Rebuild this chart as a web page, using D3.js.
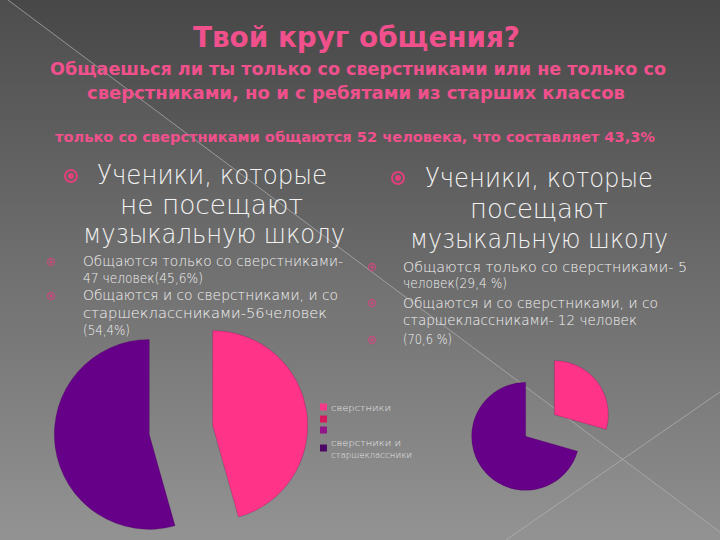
<!DOCTYPE html>
<html>
<head>
<meta charset="utf-8">
<script src="https://cdn.jsdelivr.net/npm/d3@7"></script>
<style>
html,body{margin:0;padding:0;background:#4a4a4a;}
svg{display:block;}
</style>
</head>
<body>
<div id="chart"></div>
<script>
// ---------- data ----------
const titleText = "Твой круг общения?";
const subtitleLines = [
  "Общаешься ли ты только со сверстниками или не только со",
  "сверстниками, но и с  ребятами из старших классов"
];
const summaryText = "только со сверстниками общаются  52 человека, что составляет  43,3%";

const leftHeading = ["Ученики, которые", "не посещают", "музыкальную школу"];
const leftItems = [
  "Общаются только со сверстниками-",
  "47 человек(45,6%)",
  "Общаются и со сверстниками, и со",
  "старшеклассниками-56человек",
  "(54,4%)"
];
const rightHeading = ["Ученики, которые", "посещают", "музыкальную школу"];
const rightItems = [
  "Общаются только со сверстниками- 5",
  "человек(29,4 %)",
  "Общаются и со сверстниками, и со",
  "старшеклассниками- 12 человек",
  "(70,6 %)"
];

const categories = ["сверстники", "сверстники и старшеклассники"];
const leftValues = [47, 56];   // не посещают музыкальную школу
const rightValues = [5, 12];   // посещают музыкальную школу
const legendLabels = ["сверстники", "", "", "сверстники и старшеклассники"];

// ---------- styles ----------
const W = 720, H = 540;
const pink = "#ff3388", purple = "#660088";
const sliceColors = [pink, purple];
const legendColors = ["#f53a8a", "#d8185e", "#92168a", "#4c0a66"];
const titleColor = "#f0508c";
const textColor = "#f2f2f2";

const svg = d3.select("#chart").append("svg").attr("width", W).attr("height", H);

// background
const defs = svg.append("defs");
const grad = defs.append("linearGradient").attr("id", "bg").attr("x1", 0).attr("y1", 0).attr("x2", 0).attr("y2", 1);
grad.append("stop").attr("offset", "0%").attr("stop-color", "#474747");
grad.append("stop").attr("offset", "100%").attr("stop-color", "#8f8f8f");
svg.append("rect").attr("width", W).attr("height", H).attr("fill", "url(#bg)");
// decorative diagonal overlay and lines
svg.append("path").attr("d", "M8,0 L720,532 L720,540 L0,540 L0,0 Z").attr("fill", "#ffffff").attr("opacity", 0.035);
svg.append("line").attr("x1", 8).attr("y1", 0).attr("x2", 720).attr("y2", 532)
  .attr("stroke", "#b4b4b4").attr("stroke-width", 1).attr("opacity", 0.7);
svg.append("line").attr("x1", 506).attr("y1", 540).attr("x2", 720).attr("y2", 392)
  .attr("stroke", "#b4b4b4").attr("stroke-width", 1).attr("opacity", 0.7);

// helper for fitted text
function fitText(g, str, x, y, w, size, opts = {}) {
  const t = g.append("text")
    .attr("x", x).attr("y", y)
    .attr("font-family", "'DejaVu Sans', sans-serif")
    .attr("font-size", size)
    .attr("font-weight", opts.weight || "normal")
    .attr("fill", opts.fill || textColor)
    .text(str);
  if (w) t.attr("textLength", w).attr("lengthAdjust", "spacingAndGlyphs");
  return t;
}

// titles
const tg = svg.append("g");
fitText(tg, titleText, 193, 47, 327, 28, {weight: "bold", fill: titleColor});
fitText(tg, subtitleLines[0], 50, 75, 616, 18, {weight: "bold", fill: titleColor});
fitText(tg, subtitleLines[1], 87, 99, 538, 18, {weight: "bold", fill: titleColor});
fitText(tg, summaryText, 55, 142, 600, 14, {weight: "bold", fill: titleColor});

// bullets
function bigBullet(x, y) {
  svg.append("circle").attr("cx", x).attr("cy", y).attr("r", 6).attr("fill", "none").attr("stroke", "#e0407c").attr("stroke-width", 2);
  svg.append("circle").attr("cx", x).attr("cy", y).attr("r", 3).attr("fill", "#e0407c");
}
function smallBullet(x, y) {
  svg.append("circle").attr("cx", x).attr("cy", y).attr("r", 3.5).attr("fill", "none").attr("stroke", "#d0487e").attr("stroke-width", 1.3).attr("opacity", 0.85);
  svg.append("circle").attr("cx", x).attr("cy", y).attr("r", 1.8).attr("fill", "#d0487e").attr("opacity", 0.85);
}

// left text block
const lg = svg.append("g");
bigBullet(71, 176);
const lhX = [97, 120, 83], lhW = [230, 183, 262], lhY = [184, 214, 243];
leftHeading.forEach((s, i) => fitText(lg, s, lhX[i], lhY[i], lhW[i], 26, {weight: 200}));
const liW = [260, 120, 255, 244, 47], liY = [266, 283, 300, 318, 335];
leftItems.forEach((s, i) => fitText(lg, s, 83, liY[i], liW[i], 13.5, {weight: 200}));
smallBullet(51, 262); smallBullet(51, 296);

// right text block
const rg = svg.append("g");
bigBullet(398, 178);
const rhX = [425, 470, 410], rhW = [228, 138, 258], rhY = [187, 218, 248];
rightHeading.forEach((s, i) => fitText(rg, s, rhX[i], rhY[i], rhW[i], 26, {weight: 200}));
const riW = [284, 104, 255, 234, 49], riY = [272, 288, 308, 325, 344];
rightItems.forEach((s, i) => fitText(rg, s, 403, riY[i], riW[i], 13.5, {weight: 200}));
smallBullet(372, 267); smallBullet(372, 303); smallBullet(372, 340);

// pies (exploded)
const pie = d3.pie().sort(null).startAngle(0).endAngle(2 * Math.PI);
function drawPie(values, cx, cy, r, explode) {
  const arc = d3.arc().innerRadius(0).outerRadius(r);
  const g = svg.append("g").attr("transform", `translate(${cx},${cy})`);
  g.selectAll("path").data(pie(values)).join("path")
    .attr("d", arc)
    .attr("fill", (d, i) => sliceColors[i])
    .attr("stroke", "#3a0040").attr("stroke-width", 0.4).attr("stroke-opacity", 0.5)
    .attr("transform", d => {
      const a = (d.startAngle + d.endAngle) / 2;
      return `translate(${explode * Math.sin(a)},${-explode * Math.cos(a)})`;
    });
}
drawPie(leftValues, 181, 430, 95, 32);
drawPie(rightValues, 540, 425.5, 54, 18);

// legend (left chart)
const leg = svg.append("g");
const legY = [407, 419, 430, 448];
legendLabels.forEach((lab, i) => {
  leg.append("rect").attr("x", 320).attr("y", legY[i] - 3.5).attr("width", 7).attr("height", 7).attr("fill", legendColors[i]);
});
fitText(leg, legendLabels[0], 331, 411, 60, 8.5, {fill: "#e6e6e6", weight: 200});
fitText(leg, "сверстники и", 331, 446, 70, 8.5, {fill: "#e6e6e6", weight: 200});
fitText(leg, "старшеклассники", 331, 458, 81, 8.5, {fill: "#e6e6e6", weight: 200});
</script>
</body>
</html>
